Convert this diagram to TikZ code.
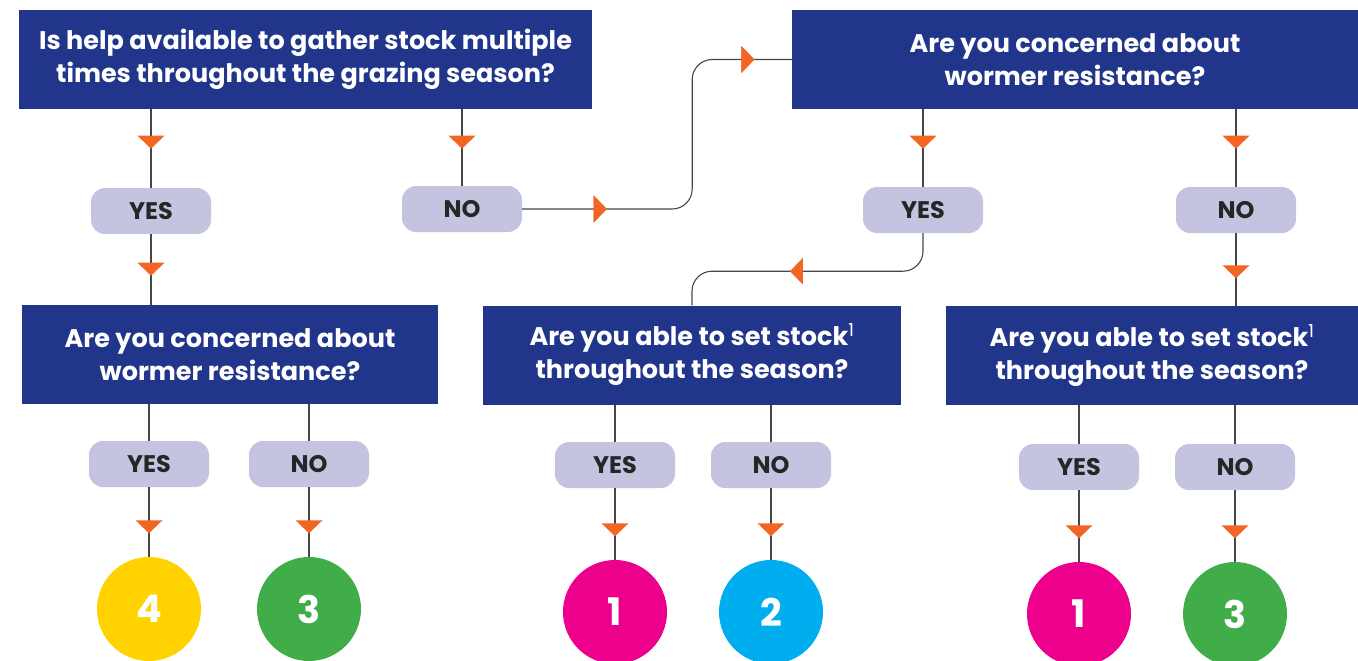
\documentclass[tikz,border=0pt]{standalone}
\usepackage{fontspec}
\setmainfont{Poppins}
\usepackage{xcolor}
\usepackage{tikz}
\usetikzlibrary{arrows, arrows.meta}
\usetikzlibrary{positioning}
\usetikzlibrary{calc}
\usetikzlibrary{decorations.markings}
\definecolor{qBlue}{RGB}{33,54,139}
\definecolor{pillGray}{RGB}{196,196,224}
\definecolor{triOrange}{RGB}{242,101,34}
\definecolor{lineGray}{RGB}{70,70,70}
\definecolor{ansYellow}{RGB}{255,210,0}
\definecolor{ansGreen}{RGB}{65,173,73}
\definecolor{ansPink}{RGB}{236,0,140}
\definecolor{ansCyan}{RGB}{0,174,239}

\begin{document}
\begin{tikzpicture}[x=1pt, y=-1pt,
	question/.style={rectangle, fill=qBlue, text=white, align=center, minimum height=99pt, inner sep=0pt, font=\bfseries\fontsize{25.5}{33}\selectfont},
	answer/.style={rectangle, rounded corners=14pt, fill=pillGray, text=black!85, minimum width=120pt, minimum height=46pt, inner sep=0pt, font=\bfseries\fontsize{24}{26}\selectfont},
	result/.style={circle, text=white, minimum size=104pt, inner sep=0pt, font=\bfseries\fontsize{38}{40}\selectfont},
	flow/.style={draw=lineGray, line width=1.1pt, rounded corners=20pt},
	tri at/.style={postaction={decorate}, decoration={markings, mark=at position #1 with {\fill[triOrange, sharp corners] (6.5,0) -- (-6.5,13.5) -- (-6.5,-13.5) -- cycle;}}}]
	\useasboundingbox (0,0) rectangle (1358,661);

	% questions
	\node[question, minimum width=573pt](qa) at (305.5,59.5){Is help available to gather stock multiple\\times throughout the grazing season?};
	\node[question, minimum width=566pt](qb) at (1075,59.5){Are you concerned about\\wormer resistance?};
	\node[question, minimum width=416pt](c) at (230,354.5){Are you concerned about\\wormer resistance?};
	\node[question, minimum width=418pt](d) at (692,355){Are you able to set stock\textsuperscript{\mdseries 1}\\throughout the season?};
	\node[question, minimum width=412pt](e) at (1152,355.5){Are you able to set stock\textsuperscript{\mdseries 1}\\throughout the season?};

	% first answers
	\node[answer](yes1) at (151,211){YES};
	\node[answer](no1) at (462,209){NO};
	\node[answer](yes2) at (923,210){YES};
	\node[answer](no2) at (1236,210){NO};

	\draw[flow, tri at=33pt] (qa.south -| yes1) -- (yes1);
	\draw[flow, tri at=35pt] (yes1) -- (yes1 |- c.north);
	\draw[flow, tri at=33pt] (qa.south -| no1) -- (no1);
	\draw[flow, tri at=78pt, tri at=-44pt] (no1.east) -- ++(170,0) |- (qb.west);
	\draw[flow, tri at=33pt] (qb.south -| yes2) -- (yes2);
	\draw[flow, tri at=-130pt] (yes2.south) -- ++(0,38) -| (d.north);
	\draw[flow, tri at=33pt] (qb.south -| no2) -- (no2);
	\draw[flow, tri at=-34pt] (no2) -- (no2 |- e.north);

	% last answers and results
	\foreach \src/\xx/\ya/\yr/\lbl/\num/\col [count=\i] in {c/149/464/609/YES/4/ansYellow, c/309/464/609/NO/3/ansGreen, d/615/465/612/YES/1/ansPink, d/771/465/612/NO/2/ansCyan, e/1079/467/614/YES/1/ansPink, e/1235/467/614/NO/3/ansGreen}
	{
		\node[answer](ans\i) at (\xx,\ya){\lbl};
		\node[result, fill=\col](res\i) at (\xx,\yr){\num};
		\draw[flow] (\src.south -| ans\i) -- (ans\i);
		\draw[flow, tri at=-30pt] (ans\i) -- (res\i);
	}
\end{tikzpicture}
\end{document}
